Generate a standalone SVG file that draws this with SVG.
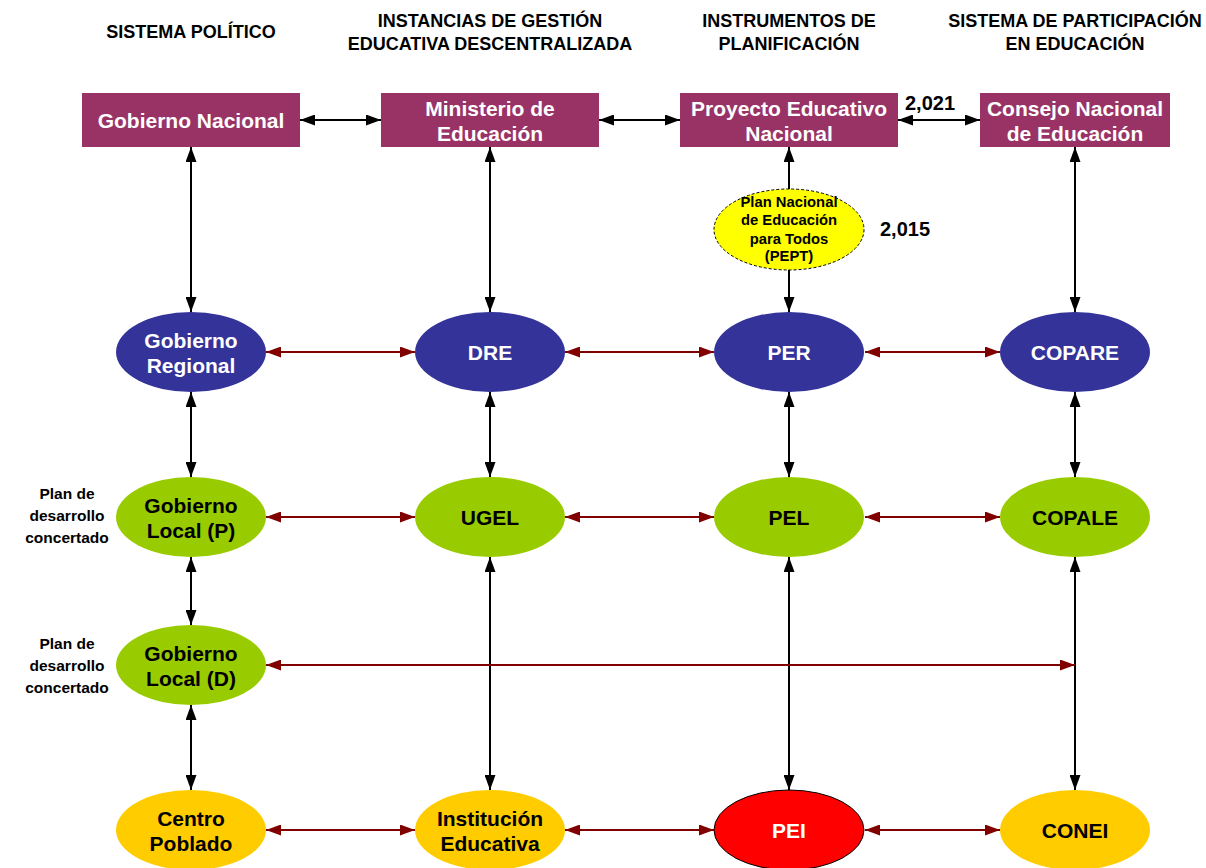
<svg xmlns="http://www.w3.org/2000/svg" width="1206" height="868" viewBox="0 0 1206 868">
<style>
text{font-family:"Liberation Sans",Arial,sans-serif;font-weight:bold;text-anchor:middle}
.hd{font-size:18px;fill:#000}
.nl{font-size:21px}
.w{fill:#fff}
.k{fill:#000}
.side{font-size:15.5px;fill:#000}
.sm{font-size:14.8px;fill:#000}
.yr{font-size:20px;fill:#000}
.rect{fill:#993366}
.blue{fill:#333399}
.green{fill:#99CC00}
.gold{fill:#FFCC00}
.bl{stroke:#000;stroke-width:2;fill:none;marker-start:url(#ak);marker-end:url(#ak)}
.rd{stroke:#800000;stroke-width:2.2;fill:none;marker-start:url(#ar);marker-end:url(#ar)}
</style>
<defs>
<marker id="ak" viewBox="0 0 15 11" refX="15" refY="5.5" markerWidth="15" markerHeight="11" markerUnits="userSpaceOnUse" orient="auto-start-reverse"><path d="M0,0 L15,5.5 L0,11 z" fill="#000"/></marker>
<marker id="ar" viewBox="0 0 15 11" refX="15" refY="5.5" markerWidth="15" markerHeight="11" markerUnits="userSpaceOnUse" orient="auto-start-reverse"><path d="M0,0 L15,5.5 L0,11 z" fill="#800000"/></marker>
</defs>
<rect width="1206" height="868" fill="#fff"/>
<g id="headers">
<text class="hd" x="191" y="37.5">SISTEMA POLÍTICO</text>
<text class="hd" x="490" y="26.5">INSTANCIAS DE GESTIÓN</text>
<text class="hd" x="490" y="49.5">EDUCATIVA DESCENTRALIZADA</text>
<text class="hd" x="789" y="26.5">INSTRUMENTOS DE</text>
<text class="hd" x="789" y="49.5">PLANIFICACIÓN</text>
<text class="hd" x="1075" y="26.5">SISTEMA DE PARTICIPACIÓN</text>
<text class="hd" x="1075" y="49.5">EN EDUCACIÓN</text>
</g>
<g id="connectors">
<line class="bl" x1="300" y1="120" x2="381" y2="120"/>
<line class="bl" x1="599" y1="120" x2="680" y2="120"/>
<line class="bl" x1="898" y1="120" x2="980" y2="120"/>
<line class="bl" x1="191" y1="147" x2="191" y2="312"/>
<line class="bl" x1="490" y1="147" x2="490" y2="312"/>
<line class="bl" x1="789" y1="147" x2="789" y2="312"/>
<line class="bl" x1="1075" y1="147" x2="1075" y2="312"/>
<line class="bl" x1="191" y1="392" x2="191" y2="477"/>
<line class="bl" x1="490" y1="392" x2="490" y2="477"/>
<line class="bl" x1="789" y1="392" x2="789" y2="477"/>
<line class="bl" x1="1075" y1="392" x2="1075" y2="477"/>
<line class="bl" x1="191" y1="557" x2="191" y2="625"/>
<line class="bl" x1="191" y1="705" x2="191" y2="790"/>
<line class="bl" x1="490" y1="557" x2="490" y2="790"/>
<line class="bl" x1="789" y1="557" x2="789" y2="790"/>
<line class="bl" x1="1075" y1="557" x2="1075" y2="790"/>
<line class="rd" x1="266" y1="352" x2="415" y2="352"/>
<line class="rd" x1="565" y1="352" x2="714" y2="352"/>
<line class="rd" x1="865" y1="352" x2="1000" y2="352"/>
<line class="rd" x1="266" y1="517" x2="415" y2="517"/>
<line class="rd" x1="565" y1="517" x2="714" y2="517"/>
<line class="rd" x1="865" y1="517" x2="1000" y2="517"/>
<line class="rd" x1="266" y1="665" x2="1075" y2="665"/>
<line class="rd" x1="266" y1="830" x2="415" y2="830"/>
<line class="rd" x1="565" y1="830" x2="714" y2="830"/>
<line class="rd" x1="865" y1="830" x2="1000" y2="830"/>
</g>
<g id="gobierno-nacional"><rect class="rect" x="82" y="93" width="218" height="54"/><text class="nl w" x="191" y="127.5">Gobierno Nacional</text></g>
<g id="ministerio"><rect class="rect" x="381" y="93" width="218" height="54"/><text class="nl w" x="490" y="115.5">Ministerio de</text><text class="nl w" x="490" y="140.5">Educación</text></g>
<g id="pen"><rect class="rect" x="680" y="93" width="218" height="54"/><text class="nl w" x="789" y="115.5">Proyecto Educativo</text><text class="nl w" x="789" y="140.5">Nacional</text></g>
<g id="cne"><rect class="rect" x="980" y="93" width="190" height="54"/><text class="nl w" x="1075" y="115.5">Consejo Nacional</text><text class="nl w" x="1075" y="140.5">de Educación</text></g>
<g id="label-2021"><text class="yr" x="930" y="110">2,021</text></g>
<g id="pept"><ellipse cx="789" cy="229.5" rx="75" ry="40.5" fill="#FFFF00" stroke="#000" stroke-width="1" stroke-dasharray="3,2"/>
<text class="sm" x="789" y="207">Plan Nacional</text><text class="sm" x="789" y="225">de Educación</text><text class="sm" x="789" y="244">para Todos</text><text class="sm" x="789" y="261">(PEPT)</text></g>
<g id="label-2015"><text class="yr" x="905" y="236">2,015</text></g>
<g id="gobierno-regional"><ellipse class="blue" cx="191" cy="352" rx="75" ry="40"/><text class="nl w" x="191" y="347.5">Gobierno</text><text class="nl w" x="191" y="372.5">Regional</text></g>
<g id="dre"><ellipse class="blue" cx="490" cy="352" rx="75" ry="40"/><text class="nl w" x="490" y="359.5">DRE</text></g>
<g id="per"><ellipse class="blue" cx="789" cy="352" rx="75" ry="40"/><text class="nl w" x="789" y="359.5">PER</text></g>
<g id="copare"><ellipse class="blue" cx="1075" cy="352" rx="75" ry="40"/><text class="nl w" x="1075" y="359.5">COPARE</text></g>
<g id="gobierno-local-p"><ellipse class="green" cx="191" cy="517" rx="75" ry="40"/><text class="nl k" x="191" y="512.5">Gobierno</text><text class="nl k" x="191" y="537.5">Local (P)</text></g>
<g id="ugel"><ellipse class="green" cx="490" cy="517" rx="75" ry="40"/><text class="nl k" x="490" y="524.5">UGEL</text></g>
<g id="pel"><ellipse class="green" cx="789" cy="517" rx="75" ry="40"/><text class="nl k" x="789" y="524.5">PEL</text></g>
<g id="copale"><ellipse class="green" cx="1075" cy="517" rx="75" ry="40"/><text class="nl k" x="1075" y="524.5">COPALE</text></g>
<g id="gobierno-local-d"><ellipse class="green" cx="191" cy="665" rx="75" ry="40"/><text class="nl k" x="191" y="660.5">Gobierno</text><text class="nl k" x="191" y="685.5">Local (D)</text></g>
<g id="centro-poblado"><ellipse class="gold" cx="191" cy="830" rx="75" ry="40"/><text class="nl k" x="191" y="825.5">Centro</text><text class="nl k" x="191" y="850.5">Poblado</text></g>
<g id="institucion"><ellipse class="gold" cx="490" cy="830" rx="75" ry="40"/><text class="nl k" x="490" y="825.5">Institución</text><text class="nl k" x="490" y="850.5">Educativa</text></g>
<g id="pei"><ellipse cx="789" cy="830" rx="75" ry="40" fill="#FF0000" stroke="#000" stroke-width="1"/><text class="nl w" x="789" y="837.5">PEI</text></g>
<g id="conei"><ellipse class="gold" cx="1075" cy="830" rx="75" ry="40"/><text class="nl k" x="1075" y="837.5">CONEI</text></g>
<g id="side-labels">
<text class="side" x="67" y="499">Plan de</text><text class="side" x="67" y="521">desarrollo</text><text class="side" x="67" y="543">concertado</text>
<text class="side" x="67" y="649">Plan de</text><text class="side" x="67" y="671">desarrollo</text><text class="side" x="67" y="693">concertado</text>
</g>
</svg>
